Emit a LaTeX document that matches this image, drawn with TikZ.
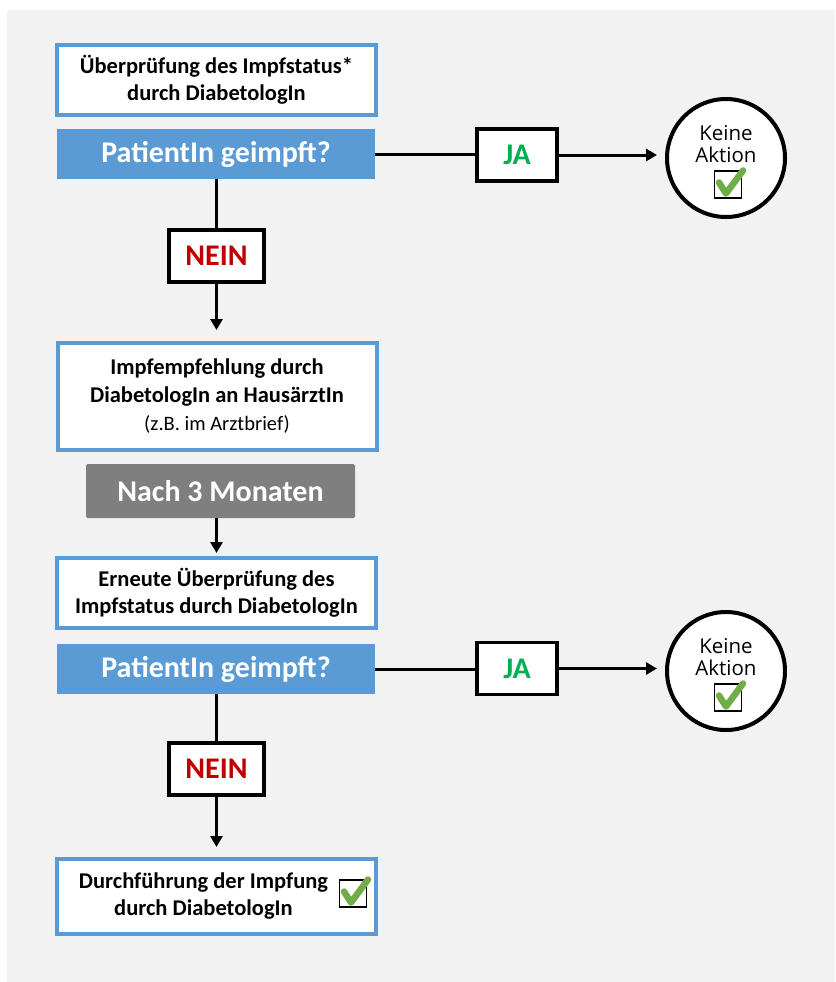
\documentclass[tikz,border=0pt]{standalone}
\usepackage{fontspec}
\setmainfont{Carlito}
\newfontfamily\circfont{Open Sans}
\usetikzlibrary{positioning,arrows.meta}
\definecolor{BoxBlue}{RGB}{91,155,213}
\definecolor{JaGreen}{RGB}{0,176,80}
\definecolor{NeinRed}{RGB}{192,0,0}
\definecolor{WaitGray}{RGB}{127,127,127}
\definecolor{TickGreen}{RGB}{112,173,71}
\definecolor{PageGray}{RGB}{242,242,242}

\begin{document}
\begin{tikzpicture}[x=1pt,y=-1pt,
	infobox/.style={draw=BoxBlue,fill=white,line width=4pt,minimum width=319pt,
		minimum height=70pt,inner sep=0pt,align=center,
		font=\fontsize{22.5}{27}\selectfont\bfseries},
	askbox/.style={fill=BoxBlue,minimum width=318pt,minimum height=50pt,inner sep=0pt,
		text=white,font=\fontsize{30}{32}\selectfont\bfseries},
	answer/.style={draw=black,fill=white,line width=3.5pt,minimum width=80pt,
		minimum height=52pt,inner sep=0pt,font=\fontsize{30}{32}\selectfont\bfseries},
	endcircle/.style={circle,draw=black,fill=white,line width=4pt,minimum size=118pt,inner sep=0pt},
	circtext/.style={align=center,inner sep=0pt,font=\circfont\fontsize{20.5}{22}\selectfont},
	flow/.style={line width=3pt},
	flowarrow/.style={flow,-{Triangle[length=11pt,width=12pt]}},
	okmark/.pic={
		\draw[black,line width=1.3pt,fill=white] (-13.5,-13.5) rectangle (13.5,13.5);
		\draw[TickGreen,line width=6.5pt,line join=round,line cap=round] (-9,-2) -- (-2,9) -- (15,-14);
	}
	]
	\useasboundingbox (0,0) rectangle (835,982);
	\fill[PageGray] (7,10) rectangle (835,982);
	
	% first check
	\node[infobox] (check1) at (216.5,80) {Überprüfung des Impfstatus*\\durch DiabetologIn};
	\node[askbox] (ask1) at (216,154) {PatientIn geimpft?};
	\node[answer,text=JaGreen] (ja1) at (517,155) {JA};
	\node[endcircle] (done1) at (726,158) {};
	\node[circtext] (done1txt) at (726,144) {Keine\\Aktion};
	\pic at (728,184.5) {okmark};
	\node[answer,text=NeinRed,minimum width=95pt,minimum height=52pt] (nein1) at (216.5,256) {NEIN};
	
	% recommendation and waiting time
	\node[infobox,minimum height=107pt,font=\fontsize{22.5}{28}\selectfont\bfseries] (advice) at (217,396.5)
	{Impfempfehlung durch\\DiabetologIn an HausärztIn\\\mdseries\fontsize{20.5}{28}\selectfont(z.B. im Arztbrief)};
	\node[fill=WaitGray,rounded corners=1.5pt,minimum width=269pt,minimum height=54pt,inner sep=0pt,
	text=white,font=\fontsize{30}{32}\selectfont\bfseries] (wait) at (220.5,491) {Nach 3 Monaten};
	
	% second check
	\node[infobox] (check2) at (216.5,593) {Erneute Überprüfung des\\Impfstatus durch DiabetologIn};
	\node[askbox] (ask2) at (216,669) {PatientIn geimpft?};
	\node[answer,text=JaGreen] (ja2) at (517,668.5) {JA};
	\node[endcircle] (done2) at (726,671) {};
	\node[circtext] (done2txt) at (726,657) {Keine\\Aktion};
	\pic at (728,697.5) {okmark};
	\node[answer,text=NeinRed,minimum width=95pt,minimum height=52pt] (nein2) at (216.5,769) {NEIN};
	\node[infobox,minimum height=75pt] (vacc) at (216.5,896.5)
	{Durchführung der Impfung\hspace*{26pt}\\durch DiabetologIn\hspace*{26pt}};
	\pic at (353,893.5) {okmark};
	
	% connectors
	\draw[flow] (ask1.east) -- (ask1.east -| ja1.west);
	\draw[flowarrow,shorten >=8pt] (ja1.east) -- (ja1.east -| done1.west);
	\draw[flow] (ask1.south -| nein1) -- (nein1.north);
	\draw[flowarrow,shorten >=11pt] (nein1.south) -- (nein1.south |- advice.north);
	\draw[flowarrow,shorten >=3pt] (wait.south -| check2) -- (check2.north);
	\draw[flow] (ask2.east) -- (ask2.east -| ja2.west);
	\draw[flowarrow,shorten >=8pt] (ja2.east) -- (ja2.east -| done2.west);
	\draw[flow] (ask2.south -| nein2) -- (nein2.north);
	\draw[flowarrow,shorten >=10pt] (nein2.south) -- (nein2.south |- vacc.north);
\end{tikzpicture}
\end{document}
